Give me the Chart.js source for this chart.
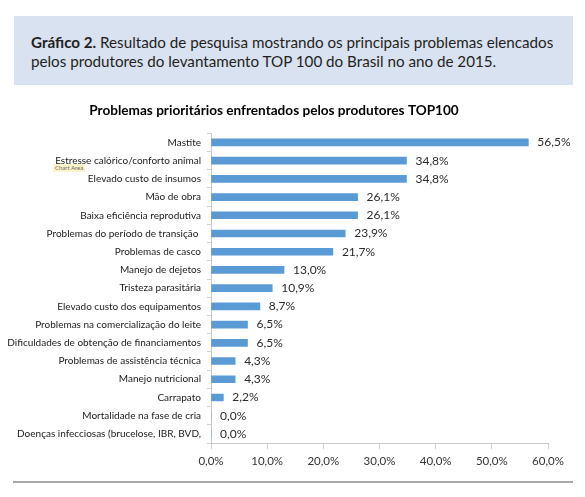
<!DOCTYPE html>
<html>
<head>
<meta charset="utf-8">
<script src="https://cdn.jsdelivr.net/npm/chart.js@4"></script>
<style>
  body { margin: 0; background: #fff; width: 585px; height: 497px; position: relative; overflow: hidden; }
  #box { position: absolute; left: 14px; top: 16px; width: 559px; height: 69px; background: #d9e2f1; }
  #cap { position: absolute; left: 31px; top: 33px; font-family: Lato, sans-serif; font-size: 15.2px; line-height: 19px; color: #231f20; }
  #cap b { font-weight: bold; }
  #tip { position: absolute; left: 53px; top: 164px; padding: 0 2px; height: 8px; line-height: 8px; font-family: Lato, sans-serif; font-size: 6px; color: #6b6b6b; background: #fbf3c9; }
  #rule { position: absolute; left: 13px; top: 481px; width: 560px; height: 2px; background: #a8a8a8; }
  #wrap { position: absolute; left: 0; top: 88px; }
</style>
</head>
<body>
<div id="box"></div>
<div id="cap"><b>Gráfico 2.</b> Resultado de pesquisa mostrando os principais problemas elencados<br>pelos produtores do levantamento TOP 100 do Brasil no ano de 2015.</div>
<div id="wrap"><canvas id="myChart" width="585" height="400"></canvas></div>
<div id="tip">Chart Area</div>
<div id="rule"></div>
<script>
const titulo = 'Problemas prioritários enfrentados pelos produtores TOP100'

const problemas = [
    'Mastite',
    'Estresse calórico/conforto animal',
    'Elevado custo de insumos',
    'Mão de obra',
    'Baixa eficiência reprodutiva',
    'Problemas do período de transição ',
    'Problemas de casco',
    'Manejo de dejetos',
    'Tristeza parasitária',
    'Elevado custo dos equipamentos',
    'Problemas na comercialização do leite',
    'Dificuldades de obtenção de financiamentos',
    'Problemas de assistência técnica',
    'Manejo nutricional',
    'Carrapato',
    'Mortalidade na fase de cria',
    'Doenças infecciosas (brucelose, IBR, BVD,'
]

const percentuais = [56.5, 34.8, 34.8, 26.1, 26.1, 23.9, 21.7, 13.0, 10.9, 8.7, 6.5, 6.5, 4.3, 4.3, 2.2, 0.0, 0.0]

const ticksX = [0, 10, 20, 30, 40, 50, 60]

const formataPct = v => (parseFloat(v)).toFixed(1).replace('.', ',') + '%'

// escreve o valor na ponta de cada barra
const rotulos = {
    id: 'rotulos',
    afterDatasetsDraw(chart) {
        const ctx = chart.ctx
        const meta = chart.getDatasetMeta(0)
        ctx.save()
        ctx.font = '12px Lato, sans-serif'
        ctx.fillStyle = '#2b2b2b'
        ctx.textAlign = 'left'
        ctx.textBaseline = 'middle'
        meta.data.forEach((bar, i) => {
            ctx.fillText(formataPct(percentuais[i]), bar.x + 9, bar.y)
        })
        ctx.restore()
    }
}

const ctx = document.getElementById('myChart').getContext('2d')

const myChart = new Chart(ctx, {
    type: 'bar',
    data: {
        labels: problemas,
        datasets: [{
            data: percentuais,
            backgroundColor: '#5b9bd5',
            barThickness: 7
        }]
    },
    plugins: [rotulos],
    options: {
        indexAxis: 'y',
        responsive: false,
        animation: false,
        devicePixelRatio: 1,
        layout: { padding: { left: 0, right: 37, top: 0, bottom: 15 } },
        plugins: {
            legend: { display: false },
            tooltip: { enabled: false },
            title: {
                display: true,
                text: titulo,
                color: '#000',
                font: { family: 'Lato, sans-serif', size: 13.6, weight: 'bold', lineHeight: 1.2 },
                padding: { top: 14, bottom: 15 }
            }
        },
        scales: {
            x: {
                min: 0,
                max: 60,
                afterBuildTicks: axis => { axis.ticks = ticksX.map(v => ({ value: v })) },
                afterFit: axis => { axis.height = 30 },
                ticks: {
                    callback: v => formataPct(v),
                    color: '#333',
                    font: { family: 'Lato, sans-serif', size: 11.5 },
                    padding: 5,
                    maxRotation: 0
                },
                grid: { drawOnChartArea: false, tickLength: 6, color: '#d0d0d0' },
                border: { color: '#c8c8c8' }
            },
            y: {
                afterFit: axis => { axis.width = 211 },
                ticks: {
                    color: '#1a1a1a',
                    font: { family: 'Lato, sans-serif', size: 10 },
                    padding: 6,
                    autoSkip: false
                },
                grid: { drawOnChartArea: false, tickLength: 4, color: '#d0d0d0', offset: true },
                border: { color: '#c8c8c8' }
            }
        }
    }
})
</script>
</body>
</html>
